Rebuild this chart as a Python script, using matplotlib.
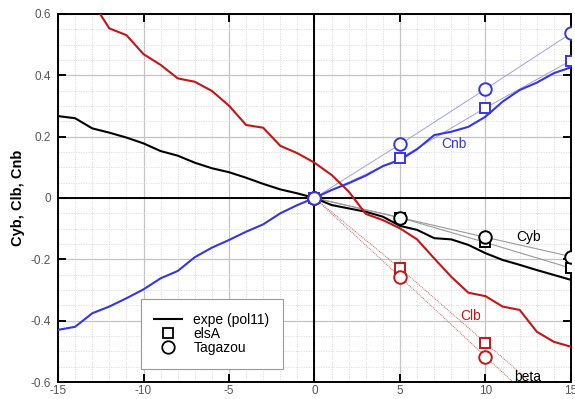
import numpy as np
import matplotlib
matplotlib.use("Agg")
import matplotlib.pyplot as plt
from matplotlib.lines import Line2D
from matplotlib.ticker import MultipleLocator

plt.rcParams['font.family'] = ['Liberation Sans', 'DejaVu Sans']

# Experimental sweep (pol11)
beta_expe = list(range(-15, 16))
cyb_expe = [0.267, 0.26, 0.227, 0.213, 0.197, 0.178, 0.153, 0.138, 0.115, 0.097,
            0.084, 0.066, 0.046, 0.028, 0.015, 0.0, -0.023, -0.034, -0.045, -0.061,
            -0.091, -0.104, -0.131, -0.135, -0.153, -0.180, -0.202, -0.218, -0.235,
            -0.251, -0.267]
clb_expe = [0.73, 0.69, 0.64, 0.553, 0.531, 0.469, 0.434, 0.39, 0.379, 0.349,
            0.301, 0.238, 0.229, 0.170, 0.146, 0.115, 0.075, 0.021, -0.052, -0.072,
            -0.099, -0.135, -0.197, -0.257, -0.309, -0.320, -0.354, -0.365, -0.436,
            -0.469, -0.485]
cnb_expe = [-0.430, -0.42, -0.376, -0.354, -0.327, -0.298, -0.262, -0.238, -0.193,
            -0.162, -0.137, -0.110, -0.086, -0.050, -0.023, 0.0, 0.026, 0.048, 0.073,
            0.104, 0.124, 0.159, 0.205, 0.216, 0.232, 0.265, 0.314, 0.352, 0.376,
            0.407, 0.426]

# CFD computations
beta_cfd = [0, 5, 10, 15]
cyb_elsa = [0.0, -0.064, -0.145, -0.229]
cyb_tag = [0.0, -0.064, -0.128, -0.191]
clb_elsa = [0.0, -0.229, -0.472, -0.715]
clb_tag = [0.0, -0.257, -0.517, -0.775]
cnb_elsa = [0.0, 0.129, 0.294, 0.448]
cnb_tag = [0.0, 0.175, 0.355, 0.537]

BLUE = '#3535e8'
RED = '#c81414'
BLACK = '#000000'

fig = plt.figure(figsize=(5.75, 3.99), dpi=100)
ax = fig.add_axes([0.1009, 0.0426, 0.8921, 0.9224])

ax.set_xlim(-15, 15)
ax.set_ylim(-0.6, 0.6)
ax.xaxis.set_major_locator(MultipleLocator(5))
ax.xaxis.set_minor_locator(MultipleLocator(1))
ax.yaxis.set_major_locator(MultipleLocator(0.2))
ax.yaxis.set_minor_locator(MultipleLocator(0.05))
ax.grid(which='major', color='#c4c4c4', lw=0.9, ls='-')
ax.grid(which='minor', color='#dadada', lw=0.6, ls=(0, (1.5, 1.5)))
ax.set_axisbelow(True)

ax.tick_params(which='major', direction='in', length=6, width=1.4, colors=BLACK,
               top=True, right=True, labelcolor='#555555', labelsize=8.5)
ax.tick_params(which='minor', length=0)
ax.tick_params(axis='y', pad=5)
ax.tick_params(axis='x', pad=2)
ax.xaxis.set_major_formatter(plt.FuncFormatter(lambda v, p: f"{v:g}"))
ax.yaxis.set_major_formatter(plt.FuncFormatter(lambda v, p: f"{v:g}"))
for s in ax.spines.values():
    s.set_linewidth(1.4)

ax.axhline(0, color=BLACK, lw=1.4, zorder=2)
ax.axvline(0, color=BLACK, lw=1.4, zorder=2)

# thin trend lines through CFD points
ax.plot(beta_cfd, cyb_elsa, color='#9a9a9a', lw=0.8, zorder=3)
ax.plot(beta_cfd, cyb_tag, color='#9a9a9a', lw=0.8, zorder=3)
ax.plot(beta_cfd, clb_elsa, color='#d06060', lw=0.7, ls=(0, (1, 1)), zorder=3)
ax.plot(beta_cfd, clb_tag, color='#d06060', lw=0.7, ls=(0, (1, 1)), zorder=3)
ax.plot(beta_cfd, cnb_elsa, color='#a0a0e6', lw=0.7, zorder=3)
ax.plot(beta_cfd, cnb_tag, color='#a0a0e6', lw=0.7, zorder=3)

# experimental curves
ax.plot(beta_expe, cyb_expe, color=BLACK, lw=1.5, zorder=4)
ax.plot(beta_expe, clb_expe, color=RED, lw=1.5, zorder=4)
ax.plot(beta_expe, cnb_expe, color=BLUE, lw=1.5, zorder=4)

# CFD markers (circles drawn over squares)
mk = dict(ls='none', mfc='white', mew=1.4)
for ys_e, ys_t, c in [(cyb_elsa, cyb_tag, BLACK), (clb_elsa, clb_tag, RED),
                      (cnb_elsa, cnb_tag, BLUE)]:
    ax.plot(beta_cfd, ys_e, marker='s', ms=7.0, mec=c, zorder=5, **mk)
    ax.plot(beta_cfd, ys_t, marker='o', ms=9.0, mec=c, zorder=6, **mk)

ax.text(7.4, 0.175, 'Cnb', color=BLUE, fontsize=10, ha='left', va='center')
ax.text(11.8, -0.127, 'Cyb', color=BLACK, fontsize=10, ha='left', va='center')
ax.text(8.5, -0.385, 'Clb', color=RED, fontsize=10, ha='left', va='center')
ax.text(11.7, -0.584, 'beta', color=BLACK, fontsize=10, ha='left', va='center')

ax.set_ylabel('Cyb, Clb, Cnb', fontsize=10.5, fontweight='bold', labelpad=4)

handles = [Line2D([], [], color=BLACK, lw=1.5),
           Line2D([], [], color=BLACK, marker='s', ls='none', mfc='none', ms=7.0, mew=1.3),
           Line2D([], [], color=BLACK, marker='o', ls='none', mfc='none', ms=9.0, mew=1.3)]
leg = ax.legend(handles, ['expe (pol11)', 'elsA', 'Tagazou'], loc='lower left',
                bbox_to_anchor=(0.161, 0.035), borderaxespad=0, fancybox=False,
                framealpha=1, edgecolor='#999999', fontsize=10, handlelength=2.0,
                handletextpad=0.8, labelspacing=0.0, borderpad=1.0)
leg.get_frame().set_linewidth(0.8)
leg.set_zorder(7)

fig.savefig('out.png', dpi=100)
